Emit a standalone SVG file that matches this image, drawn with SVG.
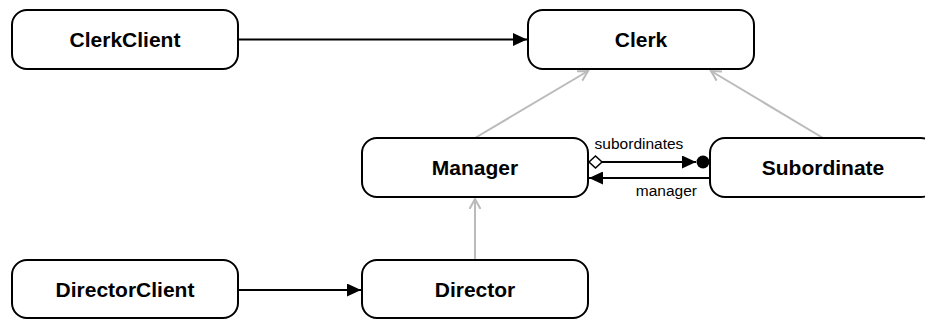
<svg xmlns="http://www.w3.org/2000/svg" width="925" height="320" viewBox="0 0 925 320">
<style>
.box{fill:#fff;stroke:#000;stroke-width:2}
.lbl{font-family:"Liberation Sans",Arial,sans-serif;font-weight:bold;font-size:21px;text-anchor:middle;fill:#000}
.small{font-family:"Liberation Sans",Arial,sans-serif;font-size:15.5px;fill:#000}
.assoc{stroke:#000;stroke-width:2;fill:none}
.gen{stroke:#bbb;stroke-width:2;fill:none}
</style>
<defs>
<marker id="tri" markerUnits="userSpaceOnUse" markerWidth="14" markerHeight="13" refX="14" refY="6.5" orient="auto">
<path d="M0,0 L14,6.5 L0,13 z" fill="#000"/>
</marker>
<marker id="open" markerUnits="userSpaceOnUse" markerWidth="12" markerHeight="12" refX="10" refY="6" orient="auto">
<path d="M0,0.5 L10,6 L0,11.5" fill="none" stroke="#bbb" stroke-width="2"/>
</marker>
</defs>
<g id="connectors">
<line class="assoc" x1="238" y1="39.5" x2="527" y2="39.5" marker-end="url(#tri)"/>
<line class="assoc" x1="238" y1="290" x2="361" y2="290" marker-end="url(#tri)"/>
<line class="gen" x1="475" y1="138" x2="588" y2="71" marker-end="url(#open)"/>
<line class="gen" x1="823" y1="138" x2="711" y2="71" marker-end="url(#open)"/>
<line class="gen" x1="475" y1="260" x2="475" y2="199" marker-end="url(#open)"/>
<polygon points="589,162 595.5,156 602,162 595.5,168" fill="#fff" stroke="#000" stroke-width="1.5"/>
<line class="assoc" x1="602" y1="162" x2="696" y2="162" marker-end="url(#tri)"/>
<circle cx="703" cy="162" r="6.5" fill="#000"/>
<line class="assoc" x1="710" y1="178" x2="589" y2="178" marker-end="url(#tri)"/>
<text class="small" x="639" y="149" text-anchor="middle">subordinates</text>
<text class="small" x="697" y="196" text-anchor="end">manager</text>
</g>
<g id="ClerkClient"><rect class="box" x="12" y="10" width="226" height="59" rx="15"/><text class="lbl" x="125" y="47">ClerkClient</text></g>
<g id="Clerk"><rect class="box" x="528" y="10" width="226" height="59" rx="15"/><text class="lbl" x="641" y="47">Clerk</text></g>
<g id="Manager"><rect class="box" x="362" y="138" width="226" height="59" rx="15"/><text class="lbl" x="475" y="175">Manager</text></g>
<g id="Subordinate"><rect class="box" x="710" y="138" width="226" height="59" rx="15"/><text class="lbl" x="823" y="175">Subordinate</text></g>
<g id="DirectorClient"><rect class="box" x="12" y="260" width="226" height="58" rx="15"/><text class="lbl" x="125" y="297">DirectorClient</text></g>
<g id="Director"><rect class="box" x="362" y="260" width="226" height="58" rx="15"/><text class="lbl" x="475" y="297">Director</text></g>
</svg>
